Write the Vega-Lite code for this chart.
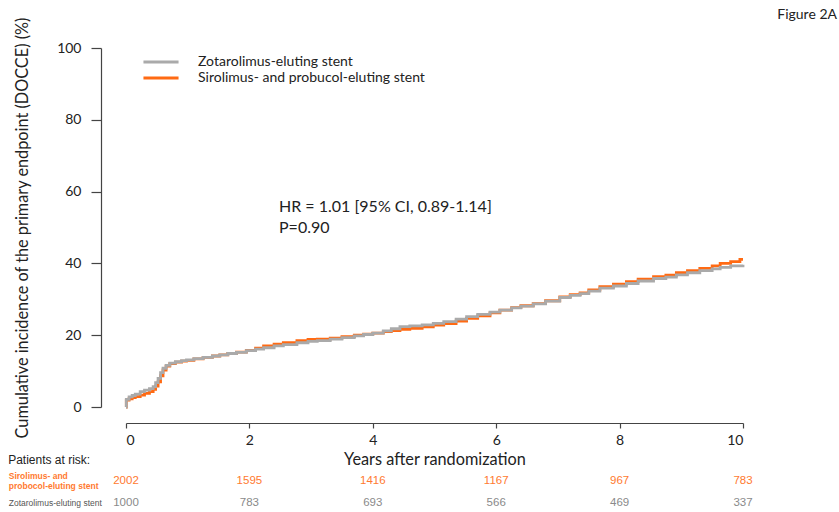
{
  "$schema": "https://vega.github.io/schema/vega-lite/v6.json",
  "width": 617,
  "height": 359,
  "autosize": {"type": "none"},
  "padding": {"left": 126, "top": 48, "right": 96, "bottom": 105},
  "background": "white",
  "title": {"text": "Figure 2A", "anchor": "end", "frame": "group", "dx": 94, "dy": 5, "offset": 0, "fontSize": 14, "fontWeight": "normal", "font": "Lato", "color": "#222222"},
  "config": {
    "view": {"stroke": null},
    "font": "Lato",
    "axis": {"domainColor": "#444444", "tickColor": "#444444", "labelColor": "#222222", "titleColor": "#222222", "labelFont": "Lato", "titleFont": "Lato", "labelFontSize": 14, "titleFontSize": 16.3, "titleFontWeight": "normal", "grid": false, "domainWidth": 1.2, "tickWidth": 1.2},
    "axisX": {"offset": 16, "tickSize": 5, "labelPadding": 5, "titlePadding": 4, "labelAngle": 0},
    "axisY": {"offset": 25, "tickSize": 10, "labelPadding": 10, "titlePadding": 26}
  },
  "datasets": {
    "curves": [
      {"series": "Sirolimus- and probucol-eluting stent", "years": 0, "incidence": 0},
      {"series": "Sirolimus- and probucol-eluting stent", "years": 0.005, "incidence": 1.9},
      {"series": "Sirolimus- and probucol-eluting stent", "years": 0.05, "incidence": 2.3},
      {"series": "Sirolimus- and probucol-eluting stent", "years": 0.1, "incidence": 2.6},
      {"series": "Sirolimus- and probucol-eluting stent", "years": 0.15, "incidence": 2.9},
      {"series": "Sirolimus- and probucol-eluting stent", "years": 0.23, "incidence": 3.3},
      {"series": "Sirolimus- and probucol-eluting stent", "years": 0.3, "incidence": 3.8},
      {"series": "Sirolimus- and probucol-eluting stent", "years": 0.38, "incidence": 4.3},
      {"series": "Sirolimus- and probucol-eluting stent", "years": 0.44, "incidence": 4.9},
      {"series": "Sirolimus- and probucol-eluting stent", "years": 0.48, "incidence": 5.8},
      {"series": "Sirolimus- and probucol-eluting stent", "years": 0.52, "incidence": 7.0},
      {"series": "Sirolimus- and probucol-eluting stent", "years": 0.56, "incidence": 8.7},
      {"series": "Sirolimus- and probucol-eluting stent", "years": 0.6, "incidence": 10.3},
      {"series": "Sirolimus- and probucol-eluting stent", "years": 0.65, "incidence": 11.4},
      {"series": "Sirolimus- and probucol-eluting stent", "years": 0.71, "incidence": 12.1},
      {"series": "Sirolimus- and probucol-eluting stent", "years": 0.8, "incidence": 12.5},
      {"series": "Sirolimus- and probucol-eluting stent", "years": 0.9, "incidence": 12.8},
      {"series": "Sirolimus- and probucol-eluting stent", "years": 0.98, "incidence": 13.0},
      {"series": "Sirolimus- and probucol-eluting stent", "years": 1.1, "incidence": 13.4},
      {"series": "Sirolimus- and probucol-eluting stent", "years": 1.25, "incidence": 13.8},
      {"series": "Sirolimus- and probucol-eluting stent", "years": 1.4, "incidence": 14.2},
      {"series": "Sirolimus- and probucol-eluting stent", "years": 1.52, "incidence": 14.5},
      {"series": "Sirolimus- and probucol-eluting stent", "years": 1.65, "incidence": 14.9},
      {"series": "Sirolimus- and probucol-eluting stent", "years": 1.79, "incidence": 15.3},
      {"series": "Sirolimus- and probucol-eluting stent", "years": 1.95, "incidence": 15.8},
      {"series": "Sirolimus- and probucol-eluting stent", "years": 2.1, "incidence": 16.4},
      {"series": "Sirolimus- and probucol-eluting stent", "years": 2.23, "incidence": 17.0},
      {"series": "Sirolimus- and probucol-eluting stent", "years": 2.4, "incidence": 17.5},
      {"series": "Sirolimus- and probucol-eluting stent", "years": 2.55, "incidence": 17.9},
      {"series": "Sirolimus- and probucol-eluting stent", "years": 2.77, "incidence": 18.5},
      {"series": "Sirolimus- and probucol-eluting stent", "years": 2.95, "incidence": 18.8},
      {"series": "Sirolimus- and probucol-eluting stent", "years": 3.1, "incidence": 18.9},
      {"series": "Sirolimus- and probucol-eluting stent", "years": 3.31, "incidence": 19.2},
      {"series": "Sirolimus- and probucol-eluting stent", "years": 3.5, "incidence": 19.6},
      {"series": "Sirolimus- and probucol-eluting stent", "years": 3.7, "incidence": 20.0},
      {"series": "Sirolimus- and probucol-eluting stent", "years": 3.85, "incidence": 20.3},
      {"series": "Sirolimus- and probucol-eluting stent", "years": 4.0, "incidence": 20.6},
      {"series": "Sirolimus- and probucol-eluting stent", "years": 4.17, "incidence": 21.0},
      {"series": "Sirolimus- and probucol-eluting stent", "years": 4.3, "incidence": 21.3},
      {"series": "Sirolimus- and probucol-eluting stent", "years": 4.44, "incidence": 21.6},
      {"series": "Sirolimus- and probucol-eluting stent", "years": 4.6, "incidence": 21.9},
      {"series": "Sirolimus- and probucol-eluting stent", "years": 4.8, "incidence": 22.3},
      {"series": "Sirolimus- and probucol-eluting stent", "years": 4.98, "incidence": 22.8},
      {"series": "Sirolimus- and probucol-eluting stent", "years": 5.15, "incidence": 23.2},
      {"series": "Sirolimus- and probucol-eluting stent", "years": 5.35, "incidence": 23.9},
      {"series": "Sirolimus- and probucol-eluting stent", "years": 5.52, "incidence": 24.7},
      {"series": "Sirolimus- and probucol-eluting stent", "years": 5.7, "incidence": 25.4},
      {"series": "Sirolimus- and probucol-eluting stent", "years": 5.9, "incidence": 26.2},
      {"series": "Sirolimus- and probucol-eluting stent", "years": 6.06, "incidence": 27.0},
      {"series": "Sirolimus- and probucol-eluting stent", "years": 6.25, "incidence": 27.7},
      {"series": "Sirolimus- and probucol-eluting stent", "years": 6.4, "incidence": 28.2},
      {"series": "Sirolimus- and probucol-eluting stent", "years": 6.6, "incidence": 28.8},
      {"series": "Sirolimus- and probucol-eluting stent", "years": 6.8, "incidence": 29.6},
      {"series": "Sirolimus- and probucol-eluting stent", "years": 7.03, "incidence": 30.7},
      {"series": "Sirolimus- and probucol-eluting stent", "years": 7.2, "incidence": 31.3},
      {"series": "Sirolimus- and probucol-eluting stent", "years": 7.36, "incidence": 31.8},
      {"series": "Sirolimus- and probucol-eluting stent", "years": 7.5, "incidence": 32.6},
      {"series": "Sirolimus- and probucol-eluting stent", "years": 7.68, "incidence": 33.5},
      {"series": "Sirolimus- and probucol-eluting stent", "years": 7.9, "incidence": 34.2},
      {"series": "Sirolimus- and probucol-eluting stent", "years": 8.11, "incidence": 34.9},
      {"series": "Sirolimus- and probucol-eluting stent", "years": 8.3, "incidence": 35.6},
      {"series": "Sirolimus- and probucol-eluting stent", "years": 8.55, "incidence": 36.3},
      {"series": "Sirolimus- and probucol-eluting stent", "years": 8.75, "incidence": 36.7},
      {"series": "Sirolimus- and probucol-eluting stent", "years": 8.92, "incidence": 37.4},
      {"series": "Sirolimus- and probucol-eluting stent", "years": 9.1, "incidence": 38.0},
      {"series": "Sirolimus- and probucol-eluting stent", "years": 9.3, "incidence": 38.6},
      {"series": "Sirolimus- and probucol-eluting stent", "years": 9.5, "incidence": 39.3},
      {"series": "Sirolimus- and probucol-eluting stent", "years": 9.63, "incidence": 40.0},
      {"series": "Sirolimus- and probucol-eluting stent", "years": 9.8, "incidence": 40.5},
      {"series": "Sirolimus- and probucol-eluting stent", "years": 9.95, "incidence": 41.1},
      {"series": "Sirolimus- and probucol-eluting stent", "years": 10.0, "incidence": 41.1},
      {"series": "Zotarolimus-eluting stent", "years": 0, "incidence": 0},
      {"series": "Zotarolimus-eluting stent", "years": 0.005, "incidence": 2.1},
      {"series": "Zotarolimus-eluting stent", "years": 0.05, "incidence": 2.8},
      {"series": "Zotarolimus-eluting stent", "years": 0.1, "incidence": 3.2},
      {"series": "Zotarolimus-eluting stent", "years": 0.15, "incidence": 3.6},
      {"series": "Zotarolimus-eluting stent", "years": 0.23, "incidence": 4.3},
      {"series": "Zotarolimus-eluting stent", "years": 0.3, "incidence": 4.7},
      {"series": "Zotarolimus-eluting stent", "years": 0.38, "incidence": 5.1},
      {"series": "Zotarolimus-eluting stent", "years": 0.44, "incidence": 5.7},
      {"series": "Zotarolimus-eluting stent", "years": 0.48, "incidence": 6.8},
      {"series": "Zotarolimus-eluting stent", "years": 0.52, "incidence": 8.0},
      {"series": "Zotarolimus-eluting stent", "years": 0.56, "incidence": 9.6},
      {"series": "Zotarolimus-eluting stent", "years": 0.6, "incidence": 10.8},
      {"series": "Zotarolimus-eluting stent", "years": 0.65, "incidence": 11.6},
      {"series": "Zotarolimus-eluting stent", "years": 0.71, "incidence": 12.2},
      {"series": "Zotarolimus-eluting stent", "years": 0.8, "incidence": 12.6},
      {"series": "Zotarolimus-eluting stent", "years": 0.9, "incidence": 12.9},
      {"series": "Zotarolimus-eluting stent", "years": 0.98, "incidence": 13.1},
      {"series": "Zotarolimus-eluting stent", "years": 1.1, "incidence": 13.5},
      {"series": "Zotarolimus-eluting stent", "years": 1.25, "incidence": 13.8},
      {"series": "Zotarolimus-eluting stent", "years": 1.4, "incidence": 14.2},
      {"series": "Zotarolimus-eluting stent", "years": 1.52, "incidence": 14.5},
      {"series": "Zotarolimus-eluting stent", "years": 1.65, "incidence": 14.9},
      {"series": "Zotarolimus-eluting stent", "years": 1.79, "incidence": 15.2},
      {"series": "Zotarolimus-eluting stent", "years": 1.95, "incidence": 15.7},
      {"series": "Zotarolimus-eluting stent", "years": 2.1, "incidence": 16.1},
      {"series": "Zotarolimus-eluting stent", "years": 2.23, "incidence": 16.5},
      {"series": "Zotarolimus-eluting stent", "years": 2.4, "incidence": 17.0},
      {"series": "Zotarolimus-eluting stent", "years": 2.55, "incidence": 17.4},
      {"series": "Zotarolimus-eluting stent", "years": 2.77, "incidence": 17.9},
      {"series": "Zotarolimus-eluting stent", "years": 2.95, "incidence": 18.3},
      {"series": "Zotarolimus-eluting stent", "years": 3.1, "incidence": 18.5},
      {"series": "Zotarolimus-eluting stent", "years": 3.31, "incidence": 18.9},
      {"series": "Zotarolimus-eluting stent", "years": 3.5, "incidence": 19.3},
      {"series": "Zotarolimus-eluting stent", "years": 3.7, "incidence": 19.8},
      {"series": "Zotarolimus-eluting stent", "years": 3.85, "incidence": 20.2},
      {"series": "Zotarolimus-eluting stent", "years": 4.0, "incidence": 20.6},
      {"series": "Zotarolimus-eluting stent", "years": 4.17, "incidence": 21.2},
      {"series": "Zotarolimus-eluting stent", "years": 4.3, "incidence": 21.8},
      {"series": "Zotarolimus-eluting stent", "years": 4.44, "incidence": 22.4},
      {"series": "Zotarolimus-eluting stent", "years": 4.6, "incidence": 22.6},
      {"series": "Zotarolimus-eluting stent", "years": 4.8, "incidence": 22.9},
      {"series": "Zotarolimus-eluting stent", "years": 4.98, "incidence": 23.3},
      {"series": "Zotarolimus-eluting stent", "years": 5.15, "incidence": 23.8},
      {"series": "Zotarolimus-eluting stent", "years": 5.35, "incidence": 24.5},
      {"series": "Zotarolimus-eluting stent", "years": 5.52, "incidence": 25.2},
      {"series": "Zotarolimus-eluting stent", "years": 5.7, "incidence": 25.8},
      {"series": "Zotarolimus-eluting stent", "years": 5.9, "incidence": 26.4},
      {"series": "Zotarolimus-eluting stent", "years": 6.06, "incidence": 27.0},
      {"series": "Zotarolimus-eluting stent", "years": 6.25, "incidence": 27.6},
      {"series": "Zotarolimus-eluting stent", "years": 6.4, "incidence": 28.1},
      {"series": "Zotarolimus-eluting stent", "years": 6.6, "incidence": 28.7},
      {"series": "Zotarolimus-eluting stent", "years": 6.8, "incidence": 29.5},
      {"series": "Zotarolimus-eluting stent", "years": 7.03, "incidence": 30.5},
      {"series": "Zotarolimus-eluting stent", "years": 7.2, "incidence": 31.1},
      {"series": "Zotarolimus-eluting stent", "years": 7.36, "incidence": 31.6},
      {"series": "Zotarolimus-eluting stent", "years": 7.5, "incidence": 32.3},
      {"series": "Zotarolimus-eluting stent", "years": 7.68, "incidence": 33.1},
      {"series": "Zotarolimus-eluting stent", "years": 7.9, "incidence": 33.7},
      {"series": "Zotarolimus-eluting stent", "years": 8.11, "incidence": 34.4},
      {"series": "Zotarolimus-eluting stent", "years": 8.3, "incidence": 35.1},
      {"series": "Zotarolimus-eluting stent", "years": 8.55, "incidence": 35.8},
      {"series": "Zotarolimus-eluting stent", "years": 8.75, "incidence": 36.2},
      {"series": "Zotarolimus-eluting stent", "years": 8.92, "incidence": 36.8},
      {"series": "Zotarolimus-eluting stent", "years": 9.1, "incidence": 37.4},
      {"series": "Zotarolimus-eluting stent", "years": 9.3, "incidence": 38.0},
      {"series": "Zotarolimus-eluting stent", "years": 9.5, "incidence": 38.5},
      {"series": "Zotarolimus-eluting stent", "years": 9.63, "incidence": 38.9},
      {"series": "Zotarolimus-eluting stent", "years": 9.8, "incidence": 39.3},
      {"series": "Zotarolimus-eluting stent", "years": 10.0, "incidence": 39.6}
    ],
    "atrisk": [
      {"group": "Sirolimus- and probucol-eluting stent", "years": 0, "n": 2002},
      {"group": "Sirolimus- and probucol-eluting stent", "years": 2, "n": 1595},
      {"group": "Sirolimus- and probucol-eluting stent", "years": 4, "n": 1416},
      {"group": "Sirolimus- and probucol-eluting stent", "years": 6, "n": 1167},
      {"group": "Sirolimus- and probucol-eluting stent", "years": 8, "n": 967},
      {"group": "Sirolimus- and probucol-eluting stent", "years": 10, "n": 783},
      {"group": "Zotarolimus-eluting stent", "years": 0, "n": 1000},
      {"group": "Zotarolimus-eluting stent", "years": 2, "n": 783},
      {"group": "Zotarolimus-eluting stent", "years": 4, "n": 693},
      {"group": "Zotarolimus-eluting stent", "years": 6, "n": 566},
      {"group": "Zotarolimus-eluting stent", "years": 8, "n": 469},
      {"group": "Zotarolimus-eluting stent", "years": 10, "n": 337}
    ]
  },
  "layer": [
    {
      "data": {"name": "curves"},
      "mark": {"type": "line", "interpolate": "step-after", "strokeWidth": 2.8, "clip": false},
      "encoding": {
        "x": {"field": "years", "type": "quantitative", "scale": {"domain": [0, 10], "nice": false, "zero": false}, "axis": {"values": [0, 2, 4, 6, 8, 10], "format": "d", "title": "Years after randomization"}},
        "y": {"field": "incidence", "type": "quantitative", "scale": {"domain": [0, 100], "nice": false}, "axis": {"values": [0, 20, 40, 60, 80, 100], "format": "d", "title": "Cumulative incidence of the primary endpoint (DOCCE) (%)"}},
        "color": {
          "field": "series", "type": "nominal",
          "scale": {"domain": ["Zotarolimus-eluting stent", "Sirolimus- and probucol-eluting stent"], "range": ["#aaaaaa", "#ff6a13"]},
          "legend": {"title": null, "orient": "none", "legendX": 28, "legendY": 7, "symbolType": "M-4,0H4", "symbolSize": 77, "symbolStrokeWidth": 3, "labelFont": "Lato", "labelFontSize": 14, "labelColor": "#222222", "labelOffset": 30, "labelLimit": 400, "rowPadding": 2, "padding": 0}
        }
      }
    },
    {
      "data": {"values": [{}]},
      "mark": {"type": "text", "text": ["HR = 1.01 [95% CI, 0.89-1.14]", "P=0.90"], "align": "left", "baseline": "top", "font": "Lato", "fontSize": 16, "lineHeight": 21, "color": "#222222"},
      "encoding": {"x": {"datum": 2.48}, "y": {"datum": 57.9}}
    },
    {
      "data": {"values": [{}]},
      "mark": {"type": "text", "text": "Patients at risk:", "align": "left", "baseline": "middle", "font": "Liberation Sans", "fontSize": 12, "color": "#222222"},
      "encoding": {"x": {"datum": -1.91}, "y": {"datum": -14.8}}
    },
    {
      "data": {"values": [{}]},
      "mark": {"type": "text", "text": ["Sirolimus- and", "probocol-eluting stent"], "align": "left", "baseline": "middle", "font": "Liberation Sans", "fontSize": 8.5, "fontWeight": "bold", "lineHeight": 10, "dy": -5, "color": "#ff7a30"},
      "encoding": {"x": {"datum": -1.9}, "y": {"datum": -20.6}}
    },
    {
      "data": {"values": [{}]},
      "mark": {"type": "text", "text": "Zotarolimus-eluting stent", "align": "left", "baseline": "middle", "font": "Liberation Sans", "fontSize": 8.5, "color": "#555555"},
      "encoding": {"x": {"datum": -1.9}, "y": {"datum": -26.7}}
    },
    {
      "data": {"name": "atrisk"},
      "transform": [{"filter": "datum.group === 'Sirolimus- and probucol-eluting stent'"}],
      "mark": {"type": "text", "align": "center", "baseline": "middle", "font": "Liberation Sans", "fontSize": 11.5, "color": "#ff7a30"},
      "encoding": {"x": {"field": "years", "type": "quantitative"}, "y": {"datum": -20.6}, "text": {"field": "n", "type": "quantitative"}}
    },
    {
      "data": {"name": "atrisk"},
      "transform": [{"filter": "datum.group === 'Zotarolimus-eluting stent'"}],
      "mark": {"type": "text", "align": "center", "baseline": "middle", "font": "Liberation Sans", "fontSize": 11.5, "color": "#8a8a8a"},
      "encoding": {"x": {"field": "years", "type": "quantitative"}, "y": {"datum": -26.7}, "text": {"field": "n", "type": "quantitative"}}
    }
  ]
}
